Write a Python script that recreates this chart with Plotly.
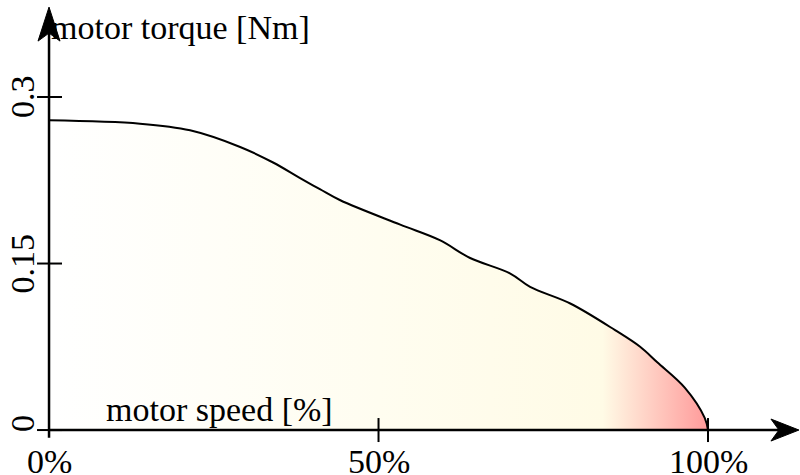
import plotly.graph_objects as go

# ---- data ----
speed_pct = [0, 13.8, 21.4, 29.0, 34.0, 38.1, 41.1, 44.2, 53.3, 59.3, 63.9, 70.0, 73.0, 79.1, 85.9, 89.7, 92.3, 96.5, 99.5, 100]
torque_nm = [0.279, 0.276, 0.270, 0.255, 0.241, 0.227, 0.217, 0.207, 0.185, 0.171, 0.155, 0.141, 0.129, 0.114, 0.090, 0.075, 0.061, 0.038, 0.011, 0.0]
x_ticks = [0, 50, 100]
x_tick_labels = ["0%", "50%", "100%"]
y_ticks = [0, 0.15, 0.3]
y_tick_labels = ["0", "0.15", "0.3"]

FONT = "Liberation Serif"
FS = 34
X_RANGE = [-7.44, 113.96]
Y_RANGE = [-0.0405, 0.3874]
X_TIP = 113.8
Y_TIP = 0.381

fig = go.Figure()
fig.add_trace(go.Scatter(
    x=speed_pct, y=torque_nm, mode="lines",
    line=dict(color="black", width=2, shape="spline", smoothing=1.0),
    fill="tozeroy",
    fillgradient=dict(type="horizontal", start=0, stop=100,
                      colorscale=[[0, "#ffffff"], [0.5, "#fffdf0"], [0.84, "#fffbe6"], [1, "#ff9a9a"]]),
    hoverinfo="skip", showlegend=False,
))

shapes = []
# axis lines
shapes.append(dict(type="line", xref="x", yref="y", x0=0, x1=X_TIP - 2, y0=0, y1=0, line=dict(color="black", width=2.5)))
shapes.append(dict(type="line", xref="x", yref="y", x0=0, x1=0, y0=-0.007, y1=Y_TIP - 0.01, line=dict(color="black", width=2.5)))
# arrowheads (pixel-sized)
shapes.append(dict(type="path", xref="x", yref="y", xsizemode="pixel", ysizemode="pixel",
                   xanchor=X_TIP, yanchor=0, path="M0,0 L-28,11 L-20,0 L-28,-11 Z",
                   fillcolor="black", line=dict(color="black", width=1)))
shapes.append(dict(type="path", xref="x", yref="y", xsizemode="pixel", ysizemode="pixel",
                   xanchor=0, yanchor=Y_TIP, path="M0,0 L-11,-34 L0,-26 L11,-34 Z",
                   fillcolor="black", line=dict(color="black", width=1)))
# ticks
for xv in x_ticks[1:]:
    shapes.append(dict(type="line", xref="x", yref="y", xsizemode="scaled", ysizemode="pixel",
                       yanchor=0, x0=xv, x1=xv, y0=-12, y1=12, line=dict(color="black", width=2)))
for yv in y_ticks:
    shapes.append(dict(type="line", xref="x", yref="y", xsizemode="pixel", ysizemode="scaled",
                       xanchor=0, x0=-12, x1=13, y0=yv, y1=yv, line=dict(color="black", width=2)))

annotations = []
for xv, lab in zip(x_ticks, x_tick_labels):
    annotations.append(dict(x=xv, y=0, xref="x", yref="y", text=lab, showarrow=False,
                            yanchor="middle", yshift=-31, font=dict(family=FONT, size=FS, color="black")))
for yv, lab in zip(y_ticks, y_tick_labels):
    annotations.append(dict(x=0, y=yv, xref="x", yref="y", text=lab, showarrow=False, textangle=-90,
                            xanchor="center", xshift=-27, yshift=(6 if yv == 0 else 0),
                            font=dict(family=FONT, size=FS, color="black")))
annotations.append(dict(x=0, y=Y_TIP, xref="x", yref="y", text="motor torque [Nm]", showarrow=False,
                        xanchor="left", yanchor="middle", xshift=0, yshift=-20,
                        font=dict(family=FONT, size=FS, color="black")))
annotations.append(dict(x=8.3, y=0, xref="x", yref="y", text="motor speed [%]", showarrow=False,
                        xanchor="left", yanchor="middle", yshift=21,
                        font=dict(family=FONT, size=FS, color="black")))

fig.update_layout(
    width=800, height=475,
    margin=dict(l=0, r=0, t=0, b=0),
    paper_bgcolor="white", plot_bgcolor="white",
    xaxis=dict(range=X_RANGE, visible=False, fixedrange=True),
    yaxis=dict(range=Y_RANGE, visible=False, fixedrange=True),
    shapes=shapes, annotations=annotations,
)
fig.write_html("out.html")
